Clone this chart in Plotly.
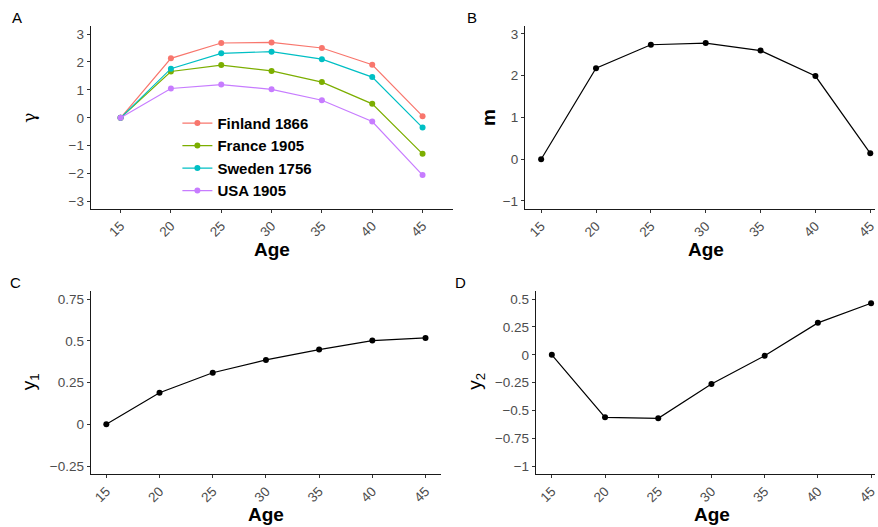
import plotly.graph_objects as go

ages = [15, 20, 25, 30, 35, 40, 45]
finland_1866 = [0.0, 2.13, 2.68, 2.70, 2.50, 1.90, 0.06]
france_1905 = [0.0, 1.66, 1.89, 1.68, 1.28, 0.50, -1.29]
sweden_1756 = [0.0, 1.76, 2.31, 2.37, 2.10, 1.46, -0.35]
usa_1905 = [0.0, 1.05, 1.19, 1.02, 0.63, -0.13, -2.05]
m_vals = [0.0, 2.18, 2.74, 2.78, 2.60, 1.99, 0.14]
y1_vals = [0.0, 0.189, 0.309, 0.386, 0.448, 0.502, 0.518]
y2_vals = [0.0, -0.562, -0.571, -0.263, -0.009, 0.287, 0.463]

series_names = ["Finland 1866", "France 1905", "Sweden 1756", "USA 1905"]
series_colors = ["#F8766D", "#7CAE00", "#00BFC4", "#C77CFF"]

ticks_a = [-3, -2, -1, 0, 1, 2, 3]
ticks_b = [-1, 0, 1, 2, 3]
ticks_c = [-0.25, 0, 0.25, 0.5, 0.75]
ticks_d = [-1, -0.75, -0.5, -0.25, 0, 0.25, 0.5]

W, H = 878, 527
FONT = "Liberation Sans, Arial, sans-serif"

fig = go.Figure()

for name, vals, col in zip(series_names, [finland_1866, france_1905, sweden_1756, usa_1905], series_colors):
    fig.add_trace(go.Scatter(x=ages, y=vals, mode="lines+markers", name=name,
                             line=dict(color=col, width=1.2), marker=dict(color=col, size=6),
                             xaxis="x", yaxis="y", cliponaxis=False))

for vals, xa, ya in [(m_vals, "x2", "y2"), (y1_vals, "x3", "y3"), (y2_vals, "x4", "y4")]:
    fig.add_trace(go.Scatter(x=ages, y=vals, mode="lines+markers", showlegend=False,
                             line=dict(color="black", width=1.2), marker=dict(color="black", size=6),
                             xaxis=xa, yaxis=ya, cliponaxis=False))

def px_x(p):
    return p / W

def px_y(p):
    return 1 - p / H

axis_common = dict(showgrid=False, zeroline=False, showline=True, linecolor="#1a1a1a", linewidth=1.1,
                   ticks="outside", ticklen=3, tickcolor="#333333", tickwidth=1,
                   ticklabeloverflow="allow",
                   tickfont=dict(family=FONT, size=13.5, color="#4D4D4D"))

layout = dict(
    width=W, height=H, margin=dict(l=0, r=0, t=0, b=0),
    paper_bgcolor="white", plot_bgcolor="white",
    font=dict(family=FONT),
    showlegend=True,
    legend=dict(x=px_x(178), y=px_y(107), xanchor="left", yanchor="top",
                font=dict(family=FONT, size=15, color="black", weight="bold"),
                bgcolor="rgba(0,0,0,0)", tracegroupgap=0, itemwidth=30),
)

panels = [
    ("", [91, 455], [26, 209], [12.03, 48.07], [-3.25, 3.29], ticks_a),
    ("2", [526.7, 878], [26, 209.3], [13.52, 45.43], [-1.19, 3.19], ticks_b),
    ("3", [91, 443], [291.7, 475], [13.53, 46.5], [-0.298, 0.798], ticks_c),
    ("4", [537.7, 878], [291.7, 475], [13.5, 45.37], [-1.072, 0.572], ticks_d),
]

for suf, xd, yd, xr, yr, yt in panels:
    layout["xaxis" + suf] = dict(axis_common, domain=[px_x(xd[0]), px_x(xd[1])], range=xr,
                                 tickvals=ages, tickangle=-45,
                                 anchor="y" + suf)
    layout["yaxis" + suf] = dict(axis_common, domain=[px_y(yd[1]), px_y(yd[0])], range=yr,
                                 tickvals=yt, anchor="x" + suf)

fig.update_layout(**layout)

annots = []
# panel letters
for txt, x, y in [("A", 17, 18), ("B", 474, 18), ("C", 16, 283), ("D", 462, 283)]:
    annots.append(dict(text=txt, x=px_x(x), y=px_y(y), xref="paper", yref="paper",
                       showarrow=False, font=dict(family=FONT, size=15, color="black"),
                       xanchor="center", yanchor="middle"))
# x titles
for x, y in [(273, 250), (708, 250), (267, 515), (714, 515)]:
    annots.append(dict(text="<b>Age</b>", x=px_x(x), y=px_y(y), xref="paper", yref="paper",
                       showarrow=False, font=dict(family=FONT, size=19, color="black"),
                       xanchor="center", yanchor="middle"))
# y titles
for txt, x, y, fam, sz in [("γ", 29, 118, "DejaVu Serif, serif", 17),
                           ("<b>m</b>", 490, 118, FONT, 19),
                           ("y<sub>1</sub>", 30, 382, FONT, 19),
                           ("y<sub>2</sub>", 478, 382, FONT, 19)]:
    annots.append(dict(text=txt, x=px_x(x), y=px_y(y), xref="paper", yref="paper",
                       showarrow=False, textangle=-90, font=dict(family=fam, size=sz, color="black"),
                       xanchor="center", yanchor="middle"))

fig.update_layout(annotations=annots)

fig.write_html("out.html")
